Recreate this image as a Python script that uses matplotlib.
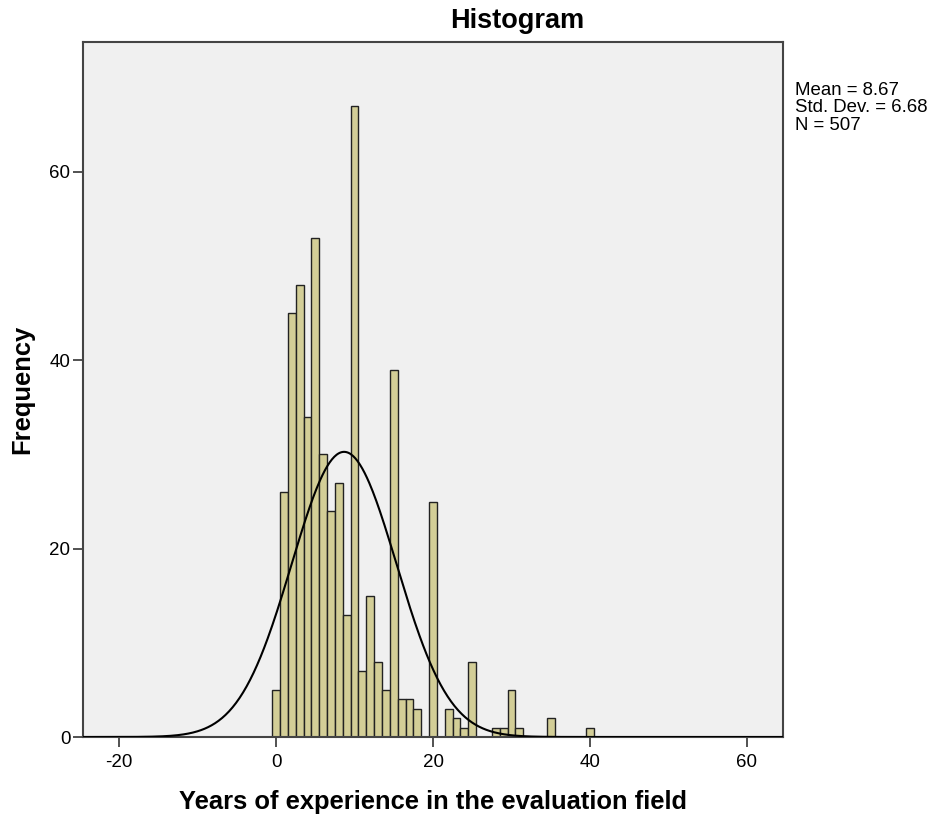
import numpy as np
import matplotlib
matplotlib.use("Agg")
import matplotlib.pyplot as plt

plt.rcParams['font.family'] = ['Liberation Sans', 'DejaVu Sans']
plt.rcParams['axes.unicode_minus'] = False

# Data: years of experience (integer bins) and frequencies
years = [0, 1, 2, 3, 4, 5, 6, 7, 8, 9, 10, 11, 12, 13, 14, 15, 16, 17, 18,
         20, 22, 23, 24, 25, 28, 29, 30, 31, 35, 40]
counts = [5, 26, 45, 48, 34, 53, 30, 24, 27, 13, 67, 7, 15, 8, 5, 39, 4, 4, 3,
          25, 3, 2, 1, 8, 1, 1, 5, 1, 2, 1]
mean_val = 8.67
sd_val = 6.68
n_val = 507
xticks = [-20, 0, 20, 40, 60]
yticks = [0, 20, 40, 60]

fig = plt.figure(figsize=(9.28, 8.17), dpi=100)
ax = fig.add_axes([83/928, 80/817, 700/928, 695/817])
ax.set_facecolor('#F0F0F0')

ax.bar(years, counts, width=1.0, align='center', color='#D3CE97',
       edgecolor='#222222', linewidth=1.0, zorder=2)

xs = np.linspace(-24.6, 64.6, 600)
ys = n_val * 1.0 / (sd_val * np.sqrt(2 * np.pi)) * np.exp(-0.5 * ((xs - mean_val) / sd_val) ** 2)
ax.plot(xs, ys, color='black', linewidth=1.5, zorder=3)

ax.set_xlim(-24.6, 64.6)
ax.set_ylim(0, 73.8)
ax.set_xticks(xticks)
ax.set_yticks(yticks)
ax.tick_params(axis='both', direction='out', length=7, width=1.2, labelsize=13.5, color='#333333')
ax.tick_params(axis='x', pad=5)
ax.tick_params(axis='y', pad=2)
for s in ax.spines.values():
    s.set_color('#444444')
    s.set_linewidth(1.5)

ax.set_xlabel('Years of experience in the evaluation field', fontsize=18.4, fontweight='bold', labelpad=14)
ax.set_ylabel('Frequency', fontsize=18.4, fontweight='bold', labelpad=11)

fig.text(517/928, 1 - 21/817, 'Histogram', ha='center', va='center', fontsize=19.5, fontweight='bold')
fig.text(795/928, 1 - 82/817, 'Mean = %.2f\nStd. Dev. = %.2f\nN = %d' % (mean_val, sd_val, n_val),
         ha='left', va='top', fontsize=13.4, linespacing=1.02)

fig.savefig('out.png', dpi=100)
